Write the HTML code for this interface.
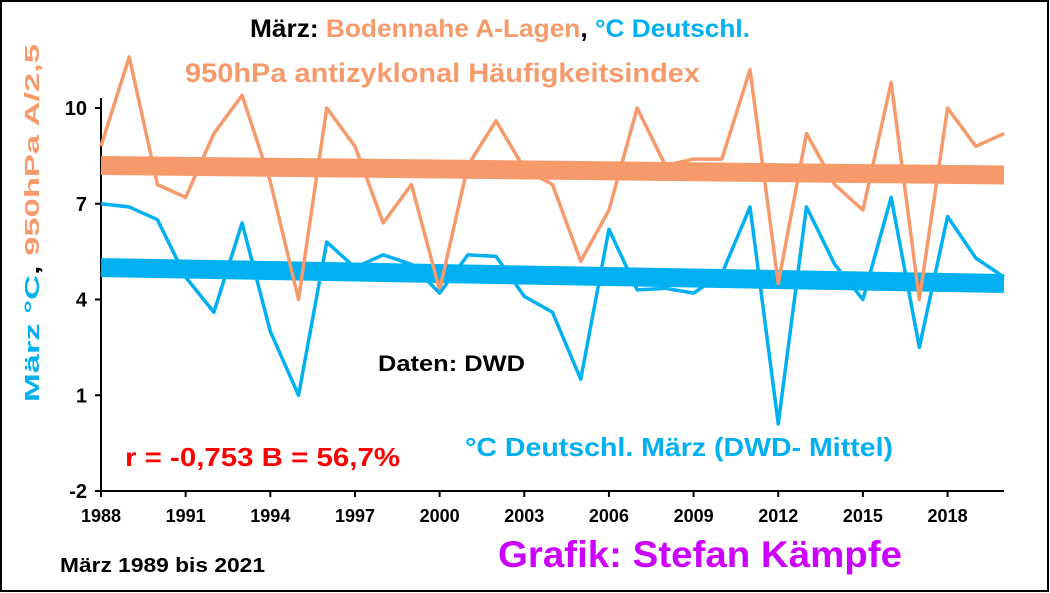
<!DOCTYPE html>
<html><head><meta charset="utf-8"><style>
html,body{margin:0;padding:0;background:#fff}
svg{display:block;font-family:"Liberation Sans",Arial,sans-serif;font-weight:bold}
</style></head><body>
<svg width="1050" height="593" viewBox="0 0 1050 593">
<rect x="1" y="1" width="1047" height="590" fill="#fff" stroke="#000" stroke-width="2"/>
<g id="plot"></g>
<text x="250" y="37" font-size="25" textLength="500" lengthAdjust="spacingAndGlyphs"><tspan fill="#000">März: </tspan><tspan fill="#f79a6b">Bodennahe A-Lagen</tspan><tspan fill="#000">, </tspan><tspan fill="#00b0f0">°C Deutschl.</tspan></text>
<text x="185" y="82" font-size="27" fill="#f79a6b" textLength="515" lengthAdjust="spacingAndGlyphs">950hPa antizyklonal Häufigkeitsindex</text>
<text x="378" y="371" font-size="22" fill="#000" textLength="147" lengthAdjust="spacingAndGlyphs">Daten: DWD</text>
<text x="125" y="466" font-size="26" fill="#ff0000" textLength="275" lengthAdjust="spacingAndGlyphs">r = -0,753 B = 56,7%</text>
<text x="465" y="456" font-size="26" fill="#00b0f0" textLength="428" lengthAdjust="spacingAndGlyphs">°C Deutschl. März (DWD- Mittel)</text>
<text x="60" y="572" font-size="20" fill="#000" textLength="205" lengthAdjust="spacingAndGlyphs">März 1989 bis 2021</text>
<text x="498" y="567" font-size="37" fill="#cc00ff" textLength="404" lengthAdjust="spacingAndGlyphs">Grafik: Stefan Kämpfe</text>
<text transform="translate(39,402) rotate(-90)" font-size="20" textLength="358" lengthAdjust="spacingAndGlyphs"><tspan fill="#00b0f0">März °C</tspan><tspan fill="#000">, </tspan><tspan fill="#f79a6b">950hPa A/2,5</tspan></text>
</svg>
<script>
const years=[1988,1989,1990,1991,1992,1993,1994,1995,1996,1997,1998,1999,2000,2001,2002,2003,2004,2005,2006,2007,2008,2009,2010,2011,2012,2013,2014,2015,2016,2017,2018,2019,2020];
const orangeValues=[8.8,11.6,7.6,7.2,9.2,10.4,7.7,4.0,10.0,8.8,6.4,7.6,4.3,8.2,9.6,8.1,7.6,5.2,6.8,10.0,8.2,8.4,8.4,11.2,4.5,9.2,7.6,6.8,10.8,4.0,10.0,8.8,9.2];
const blueValues=[7.0,6.9,6.5,4.7,3.6,6.4,3.0,1.0,5.8,5.0,5.4,5.1,4.2,5.4,5.35,4.1,3.6,1.5,6.2,4.3,4.35,4.2,4.8,6.9,0.1,6.9,5.1,4.0,7.2,2.5,6.6,5.3,4.7];
const orangeTrend=[8.2,7.9];
const blueTrend=[5.0,4.5];
const yTicks=[-2,1,4,7,10];
const xTicks=[1988,1991,1994,1997,2000,2003,2006,2009,2012,2015,2018];
const X0=101,X1=1004,Y0=491,Y1=108;
const xs=v=>X0+(v-1988)*(X1-X0)/32;
const ys=v=>Y0-(v+2)*(Y0-Y1)/12;
const NS='http://www.w3.org/2000/svg';
const g=document.getElementById('plot');
function mk(t,a){const e=document.createElementNS(NS,t);for(const k in a)e.setAttribute(k,a[k]);g.appendChild(e);return e;}
let e=mk('line',{x1:X0,y1:Y0,x2:X1,y2:Y0,stroke:'#000','stroke-width':2});


e=mk('line',{x1:X0,y1:Y1-10,x2:X0,y2:Y0,stroke:'#000','stroke-width':2});


yTicks.forEach(v=>{
 mk('line',{x1:X0-6,y1:ys(v),x2:X0,y2:ys(v),stroke:'#000','stroke-width':2});
 const t=mk('text',{x:X0-14,y:ys(v)+7,'text-anchor':'end','font-size':20,fill:'#000'});
 t.textContent=v;
 
 
});
xTicks.forEach(v=>{
 mk('line',{x1:xs(v),y1:Y0,x2:xs(v),y2:Y0+6,stroke:'#000','stroke-width':2});
 const t=mk('text',{x:xs(v),y:Y0+31,'text-anchor':'middle','font-size':18,fill:'#000'});
 t.textContent=v;
 
 
});
e=mk('line',{x1:xs(1988),y1:ys(orangeTrend[0]),x2:xs(2020),y2:ys(orangeTrend[1]),stroke:'#f79a6b','stroke-width':19});


e=mk('line',{x1:xs(1988),y1:ys(blueTrend[0]),x2:xs(2020),y2:ys(blueTrend[1]),stroke:'#00b0f0','stroke-width':19});


e=mk('polyline',{points:years.map((y,i)=>xs(y)+','+ys(orangeValues[i])).join(' '),fill:'none',stroke:'#f79a6b','stroke-width':3.5,'stroke-linejoin':'round'});


e=mk('polyline',{points:years.map((y,i)=>xs(y)+','+ys(blueValues[i])).join(' '),fill:'none',stroke:'#00b0f0','stroke-width':3.5,'stroke-linejoin':'round'});


</script>
</body></html>
